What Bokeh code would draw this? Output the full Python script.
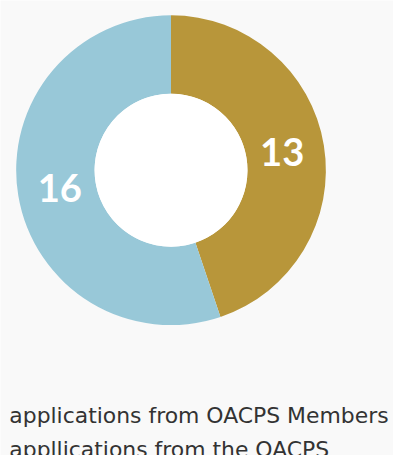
import math
from bokeh.plotting import figure
from bokeh.models import ColumnDataSource, Range1d
from bokeh.core.properties import value
from bokeh.embed import file_html
from bokeh.resources import INLINE

# data
categories = ["OACPS Secretariat", "OACPS Members"]
counts = [13, 16]
colors = ["#b8963a", "#98c8d8"]
legend_lines = ["applications from OACPS Members",
                "appllications from the OACPS"]

# reference frame is 401x463
REF_W, REF_H = 401, 463
W, H = 393, 455
S = W / REF_W
CX, CY = 174, 172.7  # donut centre in reference px
R_OUT, R_IN = 158, 78

total = sum(counts)
starts, ends, mids = [], [], []
acc = 0.0
for c in counts:
    a0 = math.pi / 2 - 2 * math.pi * acc / total
    acc += c
    a1 = math.pi / 2 - 2 * math.pi * acc / total
    starts.append(a0)
    ends.append(a1)
    mids.append((a0 + a1) / 2)

r_lab = (R_OUT + R_IN) / 2 - 3
src = ColumnDataSource(dict(
    start=starts, end=ends, color=colors,
    lx=[r_lab * math.cos(m) for m in mids],
    ly=[r_lab * math.sin(m) for m in mids],
    label=[str(c) for c in counts],
))

p = figure(width=W, height=H, output_backend="svg", toolbar_location=None,
           x_range=Range1d(-CX, REF_W - CX), y_range=Range1d(CY - REF_H, CY),
           min_border=0, background_fill_color="#f9f9f9",
           border_fill_color="#f9f9f9", outline_line_color=None)
p.axis.visible = False
p.grid.visible = False

p.annular_wedge(x=0, y=0, inner_radius=R_IN, outer_radius=R_OUT,
                start_angle="start", end_angle="end", direction="clock",
                fill_color="color", line_color=None, source=src)
p.circle(x=[0], y=[0], radius=R_IN, fill_color="white", line_color=None)

p.text(x="lx", y="ly", text="label", source=src, text_color="white",
       text_font=value("Lato"), text_font_style="bold",
       text_font_size=f"{39 * S:.1f}px", text_align="center",
       text_baseline="middle")

# legend text lines
p.text(x=[9 - CX, 9 - CX], y=[CY - 422.7, CY - 456.5],
       text=legend_lines,
       text_color="#333333", text_font=value("DejaVu Sans"),
       text_font_size=f"{22.3 * S:.1f}px", text_align="left",
       text_baseline="alphabetic")

open("out.html", "w").write(file_html(p, INLINE))
